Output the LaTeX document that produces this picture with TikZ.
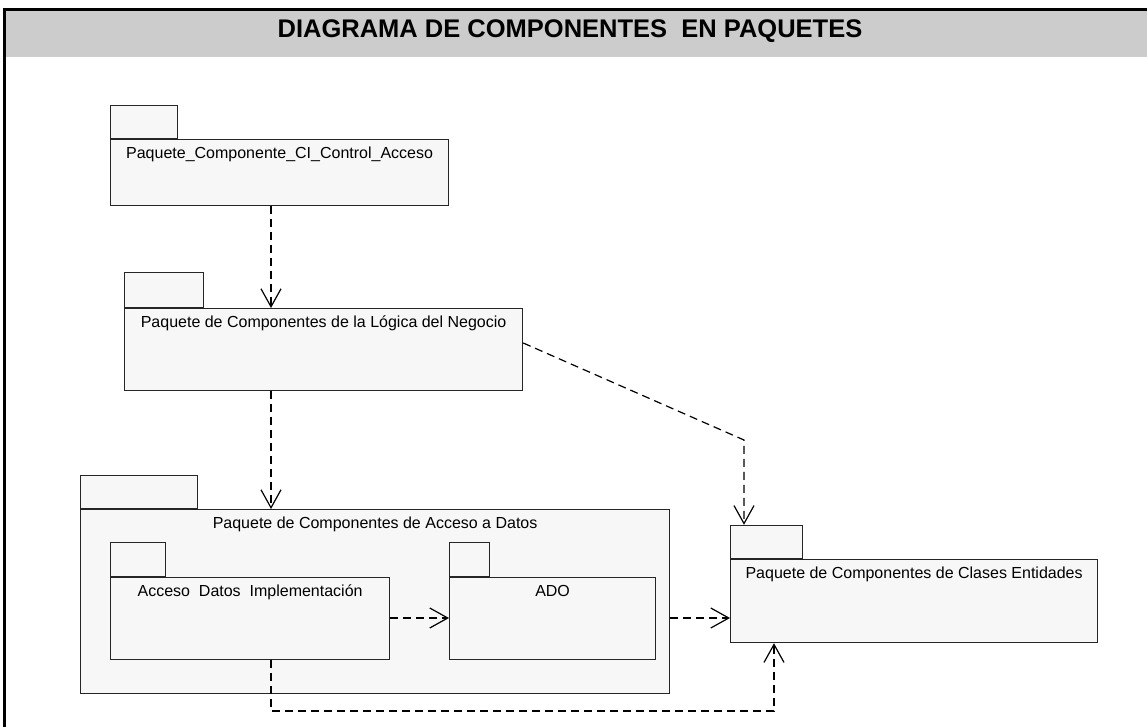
\documentclass[tikz,border=0pt]{standalone}
\usepackage{fontspec}
\setmainfont{Liberation Sans}
\usetikzlibrary{arrows.meta,positioning,calc}

\begin{document}
\begin{tikzpicture}[x=1pt,y=-1pt,
  paq/.style={draw=black!85,fill=black!3,line width=1.2pt,anchor=north west,inner sep=0pt},
  pesta/.style={paq,anchor=south west,minimum height=33pt},
  nombre/.style={anchor=north,inner sep=0pt,yshift=-8pt,text height=11pt,text depth=3pt,font=\fontsize{16}{18}\selectfont},
  dep/.style={line width=1.2pt,dash pattern=on 8pt off 5pt,-{Straight Barb[length=18pt,width=20pt,line width=1.2pt]}}]
  \useasboundingbox (0,0) rectangle (1147,727);
  % cabecera
  \fill[black!20] (5,11) rectangle (1147,57);
  \draw[line width=3pt] (4,727) -- (4,10) -- (1147,10);
  \node[font=\bfseries\fontsize{25.5}{30}\selectfont] (titulo) at (570,31) {DIAGRAMA DE COMPONENTES~ EN PAQUETES};

  % paquetes
  \node[paq,minimum width=338pt,minimum height=66pt,label={[nombre]north:Paquete\_Componente\_CI\_Control\_Acceso}] (control) at (110,139) {};
  \node[pesta,minimum width=67pt] (controlpes) at (control.north west) {};

  \node[paq,minimum width=398pt,minimum height=82pt,label={[nombre]north:Paquete de Componentes de la Lógica del Negocio}] (logica) at (124,308) {};
  \node[pesta,minimum width=79pt,minimum height=35pt] (logicapes) at (logica.north west) {};

  \node[paq,minimum width=589pt,minimum height=184pt,label={[nombre]north:Paquete de Componentes de Acceso a Datos}] (acceso) at (80,509) {};
  \node[pesta,minimum width=117pt] (accesopes) at (acceso.north west) {};

  \node[paq,minimum width=279pt,minimum height=82pt,label={[nombre]north:Acceso~ Datos~ Implementación}] (impl) at (110,577) {};
  \node[pesta,minimum width=55pt,minimum height=34pt] (implpes) at (impl.north west) {};

  \node[paq,minimum width=206pt,minimum height=82pt,label={[nombre]north:ADO}] (ado) at (449,577) {};
  \node[pesta,minimum width=40pt,minimum height=34pt] (adopes) at (ado.north west) {};

  \node[paq,minimum width=367pt,minimum height=83pt,label={[nombre]north:Paquete de Componentes de Clases Entidades}] (clases) at (730,559) {};
  \node[pesta,minimum width=72pt] (clasespes) at (clases.north west) {};

  % dependencias
  \coordinate (eje) at (271,0);
  \coordinate (medio) at (0,618);
  \coordinate (codo) at (744,440);
  \coordinate (baja) at (774,711);
  \draw[dep] (eje |- control.south) -- (eje |- logica.north);
  \draw[dep] (eje |- logica.south) -- (eje |- acceso.north);
  \draw[dep] ([yshift=-35pt]logica.north east) -- (codo) -- (codo |- clasespes.north);
  \draw[dep] (impl.east |- medio) -- (ado.west |- medio);
  \draw[dep] (acceso.east |- medio) -- (clases.west |- medio);
  \draw[dep] (eje |- impl.south) -- (eje |- baja) -- (baja) -- (baja |- clases.south);
\end{tikzpicture}
\end{document}
